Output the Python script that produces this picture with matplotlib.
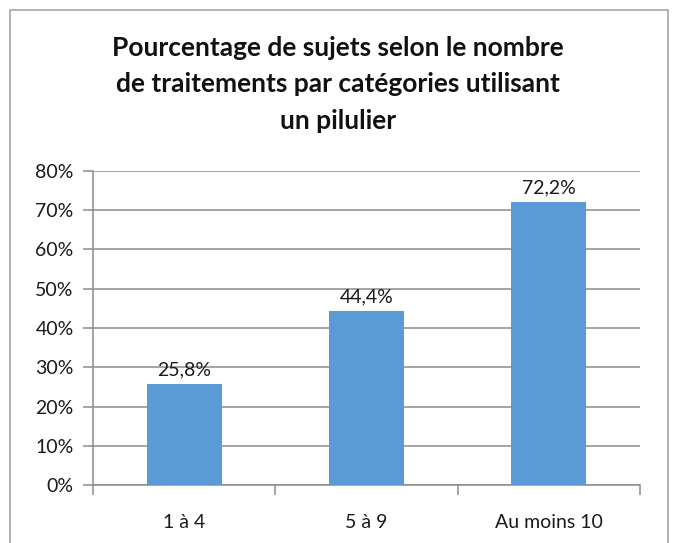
import matplotlib.pyplot as plt
from matplotlib.patches import Rectangle
from matplotlib.ticker import FuncFormatter

categories = ["1 à 4", "5 à 9", "Au moins 10"]
values = [25.8, 44.4, 72.2]
title = "Pourcentage de sujets selon le nombre\nde traitements par catégories utilisant\nun pilulier"

plt.rcParams['font.family'] = ['Lato', 'DejaVu Sans']

fig = plt.figure(figsize=(6.76, 5.43), dpi=100)
ax = fig.add_axes([93 / 676, 1 - 485 / 543, (640 - 93) / 676, (485 - 171) / 543])

# chart frame
fig.patches.append(Rectangle((10 / 676, -0.05), (668 - 10) / 676, 1.05 - 10 / 543,
                             transform=fig.transFigure, fill=False,
                             edgecolor="#a6a6a6", linewidth=1.2))

x = list(range(len(categories)))
bars = ax.bar(x, values, width=0.41, color="#5b9bd5", zorder=3)
for b, v in zip(bars, values):
    ax.text(b.get_x() + b.get_width() / 2, v + 1.4, f"{v:.1f}%".replace(".", ","),
            ha="center", va="bottom", fontsize=14, color="#1a1a1a")

ax.set_xlim(-0.5, 2.5)
ax.set_ylim(0, 80)
ax.set_yticks(range(0, 81, 10))
ax.yaxis.set_major_formatter(FuncFormatter(lambda v, p: f"{int(v)}%"))
ax.grid(axis="y", color="#8c8c8c", linewidth=1.1, zorder=0)

ax.set_xticks(x)
ax.set_xticklabels(categories)
ax.set_xticks([-0.5, 0.5, 1.5, 2.5], minor=True)
ax.tick_params(axis="x", which="major", length=0, pad=21, labelsize=14, colors="#1a1a1a")
ax.tick_params(axis="x", which="minor", length=7, width=1.1, color="#8c8c8c")
ax.tick_params(axis="y", length=7, width=1.1, color="#8c8c8c", labelsize=14, labelcolor="#1a1a1a", pad=7)

for s in ["top", "right"]:
    ax.spines[s].set_visible(False)
ax.spines["left"].set_color("#8c8c8c")
ax.spines["bottom"].set_color("#8c8c8c")
ax.spines["left"].set_linewidth(1.1)
ax.spines["bottom"].set_linewidth(1.1)

fig.text(338 / 676, 1 - 36 / 543, title, ha="center", va="top", fontsize=19,
         fontweight="bold", linespacing=1.62, color="#111111")

fig.savefig("out.png", dpi=100)
